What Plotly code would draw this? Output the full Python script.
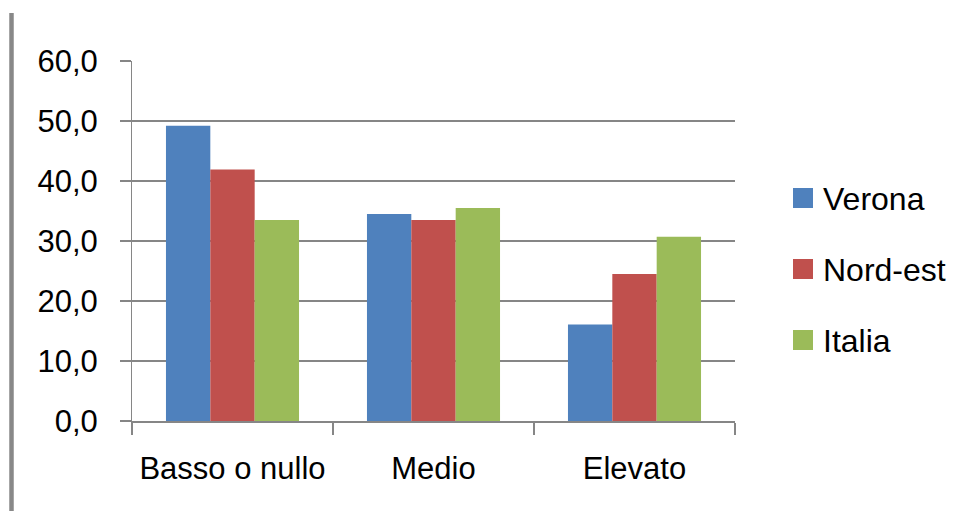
import plotly.graph_objects as go

# Data
categories = ["Basso o nullo", "Medio", "Elevato"]
series_names = ["Verona", "Nord-est", "Italia"]
verona = [49.2, 34.5, 16.1]
nord_est = [41.9, 33.5, 24.5]
italia = [33.5, 35.5, 30.7]
tick_values = [0, 10, 20, 30, 40, 50, 60]
tick_labels = ["0,0", "10,0", "20,0", "30,0", "40,0", "50,0", "60,0"]

colors = ["#4F81BD", "#C0504D", "#9BBB59"]
grid_color = "#868686"
font_family = "Liberation Sans, Arial, sans-serif"

W, H = 973, 511
M_L, M_R, M_T, M_B = 132, 238, 61, 90
plot_w = W - M_L - M_R
plot_h = H - M_T - M_B


def px_x(px):
    return (px - M_L) / plot_w


def px_y(py):
    return (H - M_B - py) / plot_h


fig = go.Figure()
for name, vals, col in zip(series_names, [verona, nord_est, italia], colors):
    fig.add_trace(go.Bar(x=categories, y=vals, name=name, marker_color=col,
                         marker_line_width=0, showlegend=False))

# Legend drawn as coloured squares with labels on the right
legend_y = [198, 269, 340]
shapes = []
annotations = []
for name, col, cy in zip(series_names, colors, legend_y):
    shapes.append(dict(type="rect", xref="paper", yref="paper",
                       x0=px_x(793), x1=px_x(813), y0=px_y(cy + 10), y1=px_y(cy - 10),
                       fillcolor=col, line_width=0))
    annotations.append(dict(xref="paper", yref="paper", x=px_x(821), y=px_y(cy + 1),
                            text=name, showarrow=False, xanchor="left", yanchor="middle",
                            font=dict(size=32, color="black", family=font_family)))

# Grey frame line at the left edge
shapes.append(dict(type="line", xref="paper", yref="paper",
                   x0=px_x(11.5), x1=px_x(11.5), y0=px_y(13), y1=px_y(515),
                   line=dict(color="#888888", width=4.5)))

fig.update_layout(
    width=W, height=H,
    margin=dict(l=M_L, r=M_R, t=M_T, b=M_B),
    paper_bgcolor="white", plot_bgcolor="white",
    barmode="group", bargap=0.338, bargroupgap=0,
    font=dict(family=font_family, size=31, color="black"),
    shapes=shapes, annotations=annotations,
    showlegend=False,
)
fig.update_xaxes(
    showline=True, linecolor=grid_color, linewidth=2,
    ticks="outside", tickson="boundaries", ticklen=12, tickcolor=grid_color, tickwidth=2,
    showgrid=False, ticklabelstandoff=19,
    tickfont=dict(size=31, family=font_family, color="black"),
)
fig.update_yaxes(
    range=[0, 60], tickvals=tick_values, ticktext=tick_labels,
    showline=True, linecolor=grid_color, linewidth=1,
    showgrid=True, gridcolor=grid_color, gridwidth=2,
    ticks="outside", ticklen=11, tickcolor=grid_color, tickwidth=2,
    zeroline=False, ticklabelstandoff=16,
    tickfont=dict(size=31, family=font_family, color="black"),
)

fig.write_html("out.html")
